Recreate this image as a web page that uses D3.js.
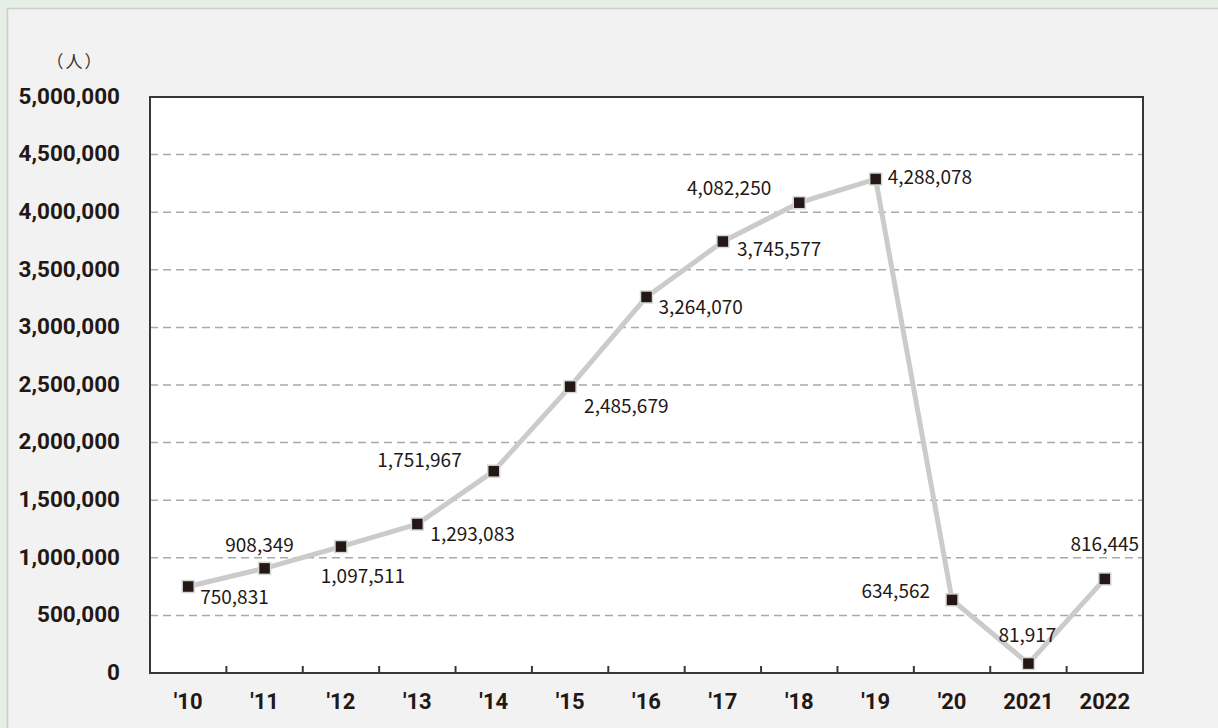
<!DOCTYPE html>
<html>
<head>
<meta charset="utf-8">
<script src="https://cdn.jsdelivr.net/npm/d3@7"></script>
<style>
  body { margin: 0; background: #e5efe5; }
  svg { display: block; }
</style>
</head>
<body>
<div id="chart"></div>
<script>
// data
var years = ["'10", "'11", "'12", "'13", "'14", "'15", "'16", "'17", "'18", "'19", "'20", "2021", "2022"]
var visitors = [750831, 908349, 1097511, 1293083, 1751967, 2485679, 3264070, 3745577, 4082250, 4288078, 634562, 81917, 816445]
var yTicks = [0, 500000, 1000000, 1500000, 2000000, 2500000, 3000000, 3500000, 4000000, 4500000, 5000000]
var unitLabel = "（人）"

// where each value label sits relative to its marker: [dx, dy, anchor]
var labelPlace = [
  [12, 17, "start"], [-5, -16, "middle"], [22, 36, "middle"], [13, 17, "start"],
  [-32, -4, "end"], [14, 26, "start"], [12, 17, "start"], [14, 14, "start"],
  [-28, -8, "end"], [12, 5, "start"], [-22, -2, "end"], [-1, -22, "middle"], [0, -28, "middle"]
]

var width = 1218,
    height = 728
var margin = {top: 97, right: 75, bottom: 55, left: 150}
var ink = "#231815"

var svg = d3.select("#chart")
  .append("svg")
    .attr("width", width)
    .attr("height", height)

// gray panel behind the chart
svg.append("rect")
  .attr("x", 7.5).attr("y", 8.5)
  .attr("width", width).attr("height", height)
  .attr("fill", "#f2f2f2")
  .attr("stroke", "#c9cec9")
  .attr("stroke-width", 1.5)

var x = d3.scaleBand()
  .domain(years)
  .range([margin.left, width - margin.right])

var y = d3.scaleLinear()
  .domain([0, 5000000])
  .range([height - margin.bottom, margin.top])

// plot background
svg.append("rect")
  .attr("x", margin.left).attr("y", margin.top)
  .attr("width", x.range()[1] - margin.left)
  .attr("height", y(0) - margin.top)
  .attr("fill", "#fff")

// dashed gridlines
svg.append("g")
  .selectAll("line")
  .data(yTicks.filter(function(d) { return d > 0 && d < 5000000 }))
  .enter()
  .append("line")
    .attr("x1", margin.left).attr("x2", x.range()[1])
    .attr("y1", function(d) { return y(d) }).attr("y2", function(d) { return y(d) })
    .attr("stroke", "#a9a9a9")
    .attr("stroke-width", 1.5)
    .attr("stroke-dasharray", "8,5")

// y axis labels
var yAxis = d3.axisLeft(y)
  .tickValues(yTicks)
  .tickFormat(d3.format(","))
  .tickSize(0)
  .tickPadding(30)
svg.append("g")
  .attr("transform", "translate(" + margin.left + ",-1)")
  .call(yAxis)
  .call(function(g) { g.select(".domain").remove() })
  .selectAll("text")
    .attr("fill", ink)
    .style("font-family", "Roboto, sans-serif")
    .style("font-weight", "bold")
    .style("font-size", "22.5px")

// x axis labels
var xAxis = d3.axisBottom(x).tickSize(0).tickPadding(20)
svg.append("g")
  .attr("transform", "translate(0," + y(0) + ")")
  .call(xAxis)
  .call(function(g) { g.select(".domain").remove() })
  .selectAll("text")
    .attr("fill", ink)
    .style("font-family", "Roboto, sans-serif")
    .style("font-weight", "bold")
    .style("font-size", "22px")

// small inward ticks between categories
svg.append("g")
  .selectAll("line")
  .data(years.slice(1))
  .enter()
  .append("line")
    .attr("x1", function(d) { return x(d) }).attr("x2", function(d) { return x(d) })
    .attr("y1", y(0)).attr("y2", y(0) - 7)
    .attr("stroke", "#3a3536")
    .attr("stroke-width", 2)

// plot frame
svg.append("rect")
  .attr("x", margin.left).attr("y", margin.top)
  .attr("width", x.range()[1] - margin.left)
  .attr("height", y(0) - margin.top)
  .attr("fill", "none")
  .attr("stroke", "#3a3536")
  .attr("stroke-width", 2)

// unit label
svg.append("text")
  .attr("x", 75).attr("y", 68)
  .attr("text-anchor", "middle")
  .attr("fill", "#333")
  .attr("letter-spacing", 2)
  .style("font-family", "'Noto Sans CJK JP', sans-serif")
  .style("font-size", "17px")
  .text(unitLabel)

var cx = function(i) { return x(years[i]) + x.bandwidth() / 2 }

// the line
var line = d3.line()
  .x(function(d, i) { return cx(i) })
  .y(function(d) { return y(d) })
svg.append("path")
  .datum(visitors)
  .attr("d", line)
  .attr("fill", "none")
  .attr("stroke", "#cbcbcb")
  .attr("stroke-width", 5)
  .attr("stroke-linejoin", "round")

// square markers
svg.append("g")
  .selectAll("rect")
  .data(visitors)
  .enter()
  .append("rect")
    .attr("x", function(d, i) { return cx(i) - 6 })
    .attr("y", function(d) { return y(d) - 6 })
    .attr("width", 12).attr("height", 12)
    .attr("fill", ink)
    .attr("stroke", "#d6d6d6")
    .attr("stroke-width", 1.5)

// value labels
svg.append("g")
  .selectAll("text")
  .data(visitors)
  .enter()
  .append("text")
    .attr("x", function(d, i) { return cx(i) + labelPlace[i][0] })
    .attr("y", function(d, i) { return y(d) + labelPlace[i][1] })
    .attr("text-anchor", function(d, i) { return labelPlace[i][2] })
    .attr("fill", ink)
    .style("font-family", "'Noto Sans CJK JP', sans-serif")
    .style("font-size", "19px")
    .text(d3.format(","))
</script>
</body>
</html>
